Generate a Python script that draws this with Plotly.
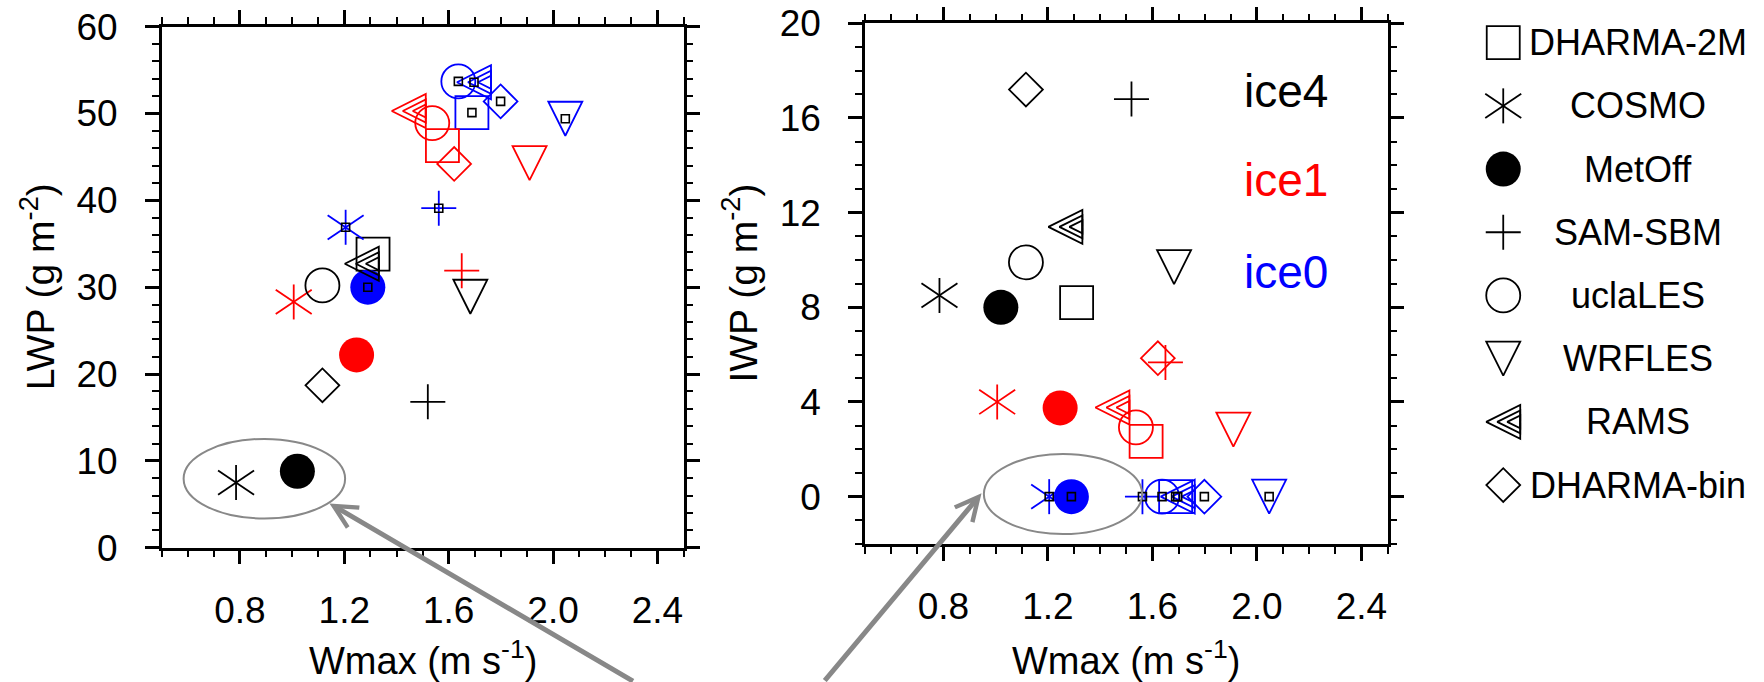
import plotly.graph_objects as go

# ---------------------------------------------------------------- data
models = ["DHARMA-2M", "COSMO", "MetOff", "SAM-SBM", "uclaLES", "WRFLES", "RAMS", "DHARMA-bin"]
cases = ["ice0", "ice1", "ice4"]

# maximum updraft Wmax (m s-1) per model for each ice case
wmax_ice4 = [1.31, 0.785, 1.02, 1.52, 1.116, 1.683, 1.267, 1.116]
wmax_ice1 = [1.576, 1.006, 1.247, 1.65, 1.537, 1.91, 1.447, 1.621]
wmax_ice0 = [1.689, 1.205, 1.29, 1.562, 1.637, 2.047, 1.697, 1.799]

# liquid water path (g m-2)
lwp_ice4 = [33.8, 7.5, 8.8, 16.8, 30.2, 28.9, 32.7, 18.7]
lwp_ice1 = [46.3, 28.3, 22.2, 31.9, 48.9, 44.3, 50.3, 44.2]
lwp_ice0 = [50.1, 36.9, 30.0, 39.1, 53.7, 49.4, 53.6, 51.4]

# ice water path (g m-2)
iwp_ice4 = [8.2, 8.5, 8.0, 16.8, 9.9, 9.7, 11.4, 17.2]
iwp_ice1 = [2.34, 4.0, 3.75, 5.67, 2.93, 2.83, 3.77, 5.85]
iwp_ice0 = [0, 0, 0, 0, 0, 0, 0, 0]

case_labels = ["ice4", "ice1", "ice0"]
case_label_y = [17.15, 13.37, 9.5]

# ---------------------------------------------------------------- style
FONT = "Liberation Sans, Arial, Helvetica, sans-serif"
case_colors = {"ice4": "#000000", "ice1": "#ff0000", "ice0": "#0000ff"}
GRAY = "#888888"
LW = 1.8

# marker recipes; composite glyphs are stacked plotly symbols
glyphs = {
    "DHARMA-2M": [dict(symbol="square-open", size=33)],
    "COSMO": [dict(symbol="line-ns-open", size=25),
              dict(symbol="line-ew-open", size=31, angle=34),
              dict(symbol="line-ew-open", size=31, angle=-34)],
    "MetOff": [dict(symbol="circle", size=35)],
    "SAM-SBM": [dict(symbol="cross-thin-open", size=25)],
    "uclaLES": [dict(symbol="circle-open", size=34)],
    "WRFLES": [dict(symbol="arrow-down-open", size=34, standoff=17)],
    # nested left-pointing triangles sharing the same base edge
    "RAMS": [dict(symbol="arrow-down-open", size=34, angle=90, standoff=17),
             dict(symbol="arrow-down-open", size=23, angle=90, standoff=6),
             dict(symbol="arrow-up-open", size=13, angle=-90, standoff=4)],
    "DHARMA-bin": [dict(symbol="diamond-open", size=26)],
}

fig = go.Figure()


def add_glyph(model, xs, ys, colors, xa, ya):
    for g in glyphs[model]:
        filled = g["symbol"] == "circle"
        fig.add_trace(go.Scatter(
            x=xs, y=ys, mode="markers", xaxis=xa, yaxis=ya,
            showlegend=False, hoverinfo="skip", cliponaxis=False,
            marker=dict(symbol=g["symbol"], size=g["size"], color=colors,
                        angle=g.get("angle", 0), standoff=g.get("standoff", 0),
                        line=dict(width=0 if filled else LW, color=colors)),
        ))


wmax_by_case = [wmax_ice0, wmax_ice1, wmax_ice4]
point_colors = [case_colors[c] for c in cases]
panels = [("x", "y", [lwp_ice0, lwp_ice1, lwp_ice4]),
          ("x2", "y2", [iwp_ice0, iwp_ice1, iwp_ice4])]

for xa, ya, series in panels:
    for i, m in enumerate(models):
        xs = [w[i] for w in wmax_by_case]
        ys = [s[i] for s in series]
        add_glyph(m, xs, ys, point_colors, xa, ya)
    # small black squares tag the ice0 runs
    fig.add_trace(go.Scatter(
        x=wmax_ice0, y=series[0], mode="markers", xaxis=xa, yaxis=ya,
        showlegend=False, hoverinfo="skip", cliponaxis=False,
        marker=dict(symbol="square-open", size=8, color="#000000",
                    line=dict(width=1.6, color="#000000")),
    ))

# legend column on its own hidden axes
for i, m in enumerate(models):
    add_glyph(m, [0.18], [i], ["#000000"], "x3", "y3")
    fig.add_annotation(x=0.603, y=i, xref="x3", yref="y3", text=m, showarrow=False,
                       xanchor="center", yanchor="middle",
                       font=dict(family=FONT, size=36, color="#000000"))

# case labels in the IWP panel
for lab, yv in zip(case_labels, case_label_y):
    fig.add_annotation(x=2.28, y=yv, xref="x2", yref="y2", text=lab, showarrow=False,
                       xanchor="right", yanchor="middle",
                       font=dict(family=FONT, size=46, color=case_colors[lab]))

# highlight ellipses around the low-LWP ice4 runs and their ice0 counterparts
fig.add_shape(type="circle", xref="x", yref="y", x0=0.584, x1=1.203, y0=3.36, y1=12.53,
              line=dict(color=GRAY, width=2))
fig.add_shape(type="circle", xref="x2", yref="y2", x0=0.955, x1=1.561, y0=-1.58, y1=1.80,
              line=dict(color=GRAY, width=2))

# arrows linking the two ellipses
arrow = dict(text="", showarrow=True, arrowhead=5, arrowsize=0.9, arrowwidth=5,
             arrowcolor=GRAY, axref="pixel", ayref="pixel")
fig.add_annotation(x=1.143, y=5.1, xref="x", yref="y", ax=305, ay=196, **arrow)
fig.add_annotation(x=0.946, y=0.14, xref="x2", yref="y2", ax=-158, ay=208, **arrow)

# axis titles
title_font = dict(family=FONT, size=38, color="#000000")
ytitle_font = dict(family=FONT, size=39, color="#000000")
fig.add_annotation(x=(161.7 + 683.5) / 2 / 1764, y=1 - 658 / 682, xref="paper", yref="paper",
                   text="Wmax (m s<sup>-1</sup>)", showarrow=False,
                   xanchor="center", yanchor="middle", font=title_font)
fig.add_annotation(x=(865 + 1387.5) / 2 / 1764, y=1 - 658 / 682, xref="paper", yref="paper",
                   text="Wmax (m s<sup>-1</sup>)", showarrow=False,
                   xanchor="center", yanchor="middle", font=title_font)
fig.add_annotation(x=37 / 1764, y=1 - 287.2 / 682, xref="paper", yref="paper",
                   text="LWP (g m<sup>-2</sup>)", showarrow=False, textangle=-90,
                   xanchor="center", yanchor="middle", font=ytitle_font)
fig.add_annotation(x=740 / 1764, y=1 - 283.6 / 682, xref="paper", yref="paper",
                   text="IWP (g m<sup>-2</sup>)", showarrow=False, textangle=-90,
                   xanchor="center", yanchor="middle", font=ytitle_font)

minor_common = dict(ticks="outside", ticklen=7, tickwidth=2, tickcolor="#000000", showgrid=False)
axis_common = dict(showline=True, linewidth=2.5, linecolor="#000000", mirror="allticks",
                   ticks="outside", ticklen=14, tickwidth=2.5, tickcolor="#000000",
                   showgrid=False, zeroline=False, automargin=False, fixedrange=True,
                   tickfont=dict(family=FONT, size=37, color="#000000"))

fig.update_layout(
    template="none",
    width=1764, height=682,
    margin=dict(l=0, r=0, t=0, b=0, pad=0),
    paper_bgcolor="#ffffff", plot_bgcolor="#ffffff",
    font=dict(family=FONT, color="#000000"),
    showlegend=False,
    xaxis=dict(domain=[161.7 / 1764, 683.5 / 1764], range=[0.5, 2.5], anchor="y",
               tickmode="linear", tick0=0.8, dtick=0.4, tickformat=".1f",
               minor=dict(tick0=0.5, dtick=0.1, **minor_common),
               ticklabelstandoff=14, **axis_common),
    yaxis=dict(domain=[1 - 547.7 / 682, 1 - 26.7 / 682], range=[0, 60], anchor="x",
               tickmode="linear", tick0=0, dtick=10,
               minor=dict(tick0=0, dtick=2, **minor_common),
               ticklabelstandoff=20, **axis_common),
    xaxis2=dict(domain=[865 / 1764, 1387.5 / 1764], range=[0.5, 2.5], anchor="y2",
                tickmode="linear", tick0=0.8, dtick=0.4, tickformat=".1f",
                minor=dict(tick0=0.5, dtick=0.1, **minor_common),
                ticklabelstandoff=14, **axis_common),
    yaxis2=dict(domain=[1 - 544 / 682, 1 - 23.3 / 682], range=[-2, 20], anchor="x2",
                tickmode="linear", tick0=0, dtick=4,
                minor=dict(tick0=0, dtick=1, **minor_common),
                ticklabelstandoff=20, **axis_common),
    xaxis3=dict(domain=[1446 / 1764, 1.0], range=[0, 1], anchor="y3", visible=False,
                fixedrange=True),
    yaxis3=dict(domain=[0, 1], range=[10.116, -0.675], anchor="x3", visible=False,
                fixedrange=True),
)

fig.write_html("out.html")
